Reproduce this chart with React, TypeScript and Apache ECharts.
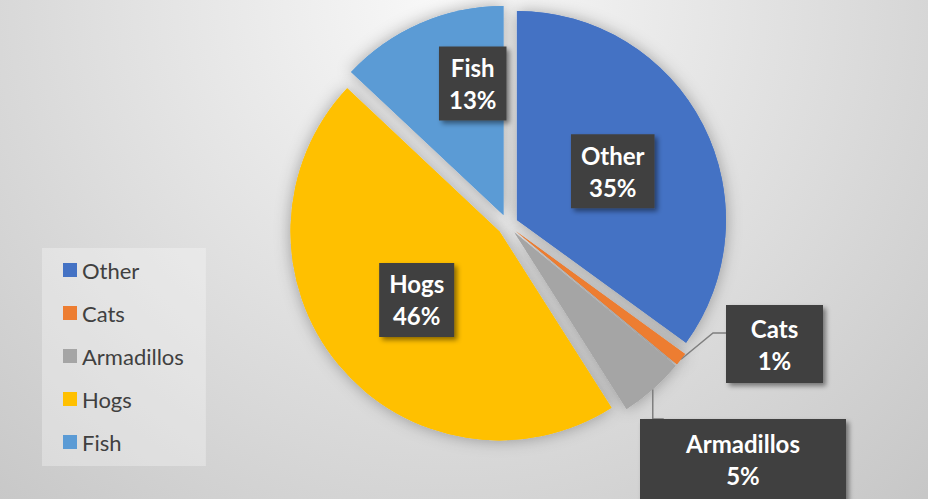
import React, { useEffect, useRef } from 'react';
import * as echarts from 'echarts';

const categories = ['Other', 'Cats', 'Armadillos', 'Hogs', 'Fish'];
const values = [35, 1, 5, 46, 13];
const colors = ['#4472C4', '#ED7D31', '#A5A5A5', '#FFC000', '#5B9BD5'];

const W = 928;
const H = 499;
const FONT = 'Lato, "Open Sans", "DejaVu Sans", sans-serif';
const CX = 507.6;
const CY = 224.7;
const R = 209;
const EXPLODE = 10.5;
const CATS_BOX = { left: 726, top: 305, w: 97 };
const ARM_BOX = { left: 640, top: 419, w: 206 };

export default function App() {
  const ref = useRef<HTMLDivElement>(null);

  useEffect(() => {
    const chart = echarts.init(ref.current!, null, { renderer: 'svg' });

    const total = values.reduce((a, b) => a + b, 0);
    const mids: number[] = [];
    let cum = 0;
    values.forEach((v) => {
      mids.push(((cum + v / 2) / total) * Math.PI * 2);
      cum += v;
    });

    const labelBase: any = {
      show: true,
      formatter: (p: any) => `${p.name}\n${Math.round(p.percent)}%`,
      color: '#ffffff',
      fontFamily: FONT,
      fontWeight: 'bold',
      fontSize: 24,
      lineHeight: 32,
      align: 'center',
      backgroundColor: '#414141',
      padding: [5, 10, 5, 10],
      shadowColor: 'rgba(0,0,0,0.45)',
      shadowBlur: 5,
      shadowOffsetX: 3,
      shadowOffsetY: 3,
    };

    const itemLabel: any[] = [
      { position: 'inside' },
      { position: 'outside', width: CATS_BOX.w - 20, padding: [7, 10, 7, 10] },
      { position: 'outside', width: ARM_BOX.w - 20, padding: [8, 10, 30, 10] },
      { position: 'inside' },
      { position: 'inside' },
    ];
    const hasLine = [false, true, true, false, false];

    const layoutFor = (i: number) => (p: any) => {
      const lr = p.labelRect;
      const pts = p.labelLinePoints;
      const s = pts && pts[0] ? pts[0] : null;
      if (i === 1) {
        const ty = CATS_BOX.top + 28;
        const out: any = {
          x: CATS_BOX.left + CATS_BOX.w / 2,
          y: CATS_BOX.top,
          align: 'center',
          verticalAlign: 'top',
        };
        if (s) {
          out.labelLinePoints = [
            [s[0], s[1]],
            [CATS_BOX.left - 13, ty],
            [CATS_BOX.left, ty],
          ];
        }
        return out;
      }
      if (i === 2) {
        const out: any = {
          x: ARM_BOX.left + ARM_BOX.w / 2,
          y: ARM_BOX.top,
          align: 'center',
          verticalAlign: 'top',
        };
        if (s) {
          out.labelLinePoints = [
            [s[0], s[1]],
            [s[0], ARM_BOX.top],
            [s[0] + 11, ARM_BOX.top],
          ];
        }
        return out;
      }
      if (i === 4) {
        return { x: lr.x + lr.width / 2 + 12, y: lr.y + lr.height / 2 - 33 };
      }
      return {};
    };

    const makeSeries = (i: number, layer: 'shadow' | 'top') => {
      const a = mids[i];
      return {
        type: 'pie',
        z: layer === 'shadow' ? 1 : 2,
        silent: true,
        center: [CX + EXPLODE * Math.sin(a), CY - EXPLODE * Math.cos(a)],
        radius: R,
        startAngle: 90,
        clockwise: true,
        avoidLabelOverlap: false,
        emphasis: { disabled: true },
        labelLayout: layer === 'top' ? layoutFor(i) : undefined,
        data: categories.map((name, j) => {
          const mine = j === i;
          return {
            name,
            value: values[j],
            itemStyle: mine
              ? layer === 'shadow'
                ? { color: colors[j], shadowBlur: 16, shadowColor: 'rgba(0,0,0,0.32)' }
                : { color: colors[j] }
              : { color: 'rgba(0,0,0,0)' },
            label:
              mine && layer === 'top'
                ? { ...labelBase, ...itemLabel[j] }
                : { show: false },
            labelLine:
              mine && layer === 'top' && hasLine[j]
                ? {
                    show: true,
                    length: 10,
                    length2: 13,
                    lineStyle: { color: '#7f7f7f', width: 1.5 },
                  }
                : { show: false },
          };
        }),
      };
    };

    const series: any[] = [];
    categories.forEach((_, i) => series.push(makeSeries(i, 'shadow')));
    categories.forEach((_, i) => series.push(makeSeries(i, 'top')));

    const option: any = {
      animation: false,
      graphic: [
        {
          type: 'rect',
          z: -10,
          silent: true,
          shape: { x: 0, y: 0, width: W, height: H },
          style: {
            fill: new echarts.graphic.RadialGradient(
              450,
              0,
              700,
              [
                { offset: 0, color: '#f9f9f9' },
                { offset: 1, color: '#c6c6c6' },
              ],
              true
            ),
          },
        },
      ],
      legend: {
        orient: 'vertical',
        left: 42,
        top: 248,
        padding: [11, 22, 13, 21],
        backgroundColor: 'rgba(255,255,255,0.3)',
        itemWidth: 14,
        itemHeight: 14,
        itemGap: 21,
        icon: 'rect',
        selectedMode: false,
        data: categories.map((name, i) => ({ name, itemStyle: { color: colors[i] } })),
        textStyle: {
          fontFamily: FONT,
          fontSize: 22,
          color: '#404040',
        },
      },
      series,
    };

    chart.setOption(option);
    return () => chart.dispose();
  }, []);

  return (
    <div
      ref={ref}
      style={{ position: 'absolute', left: 0, top: 0, width: W, height: H }}
    />
  );
}
